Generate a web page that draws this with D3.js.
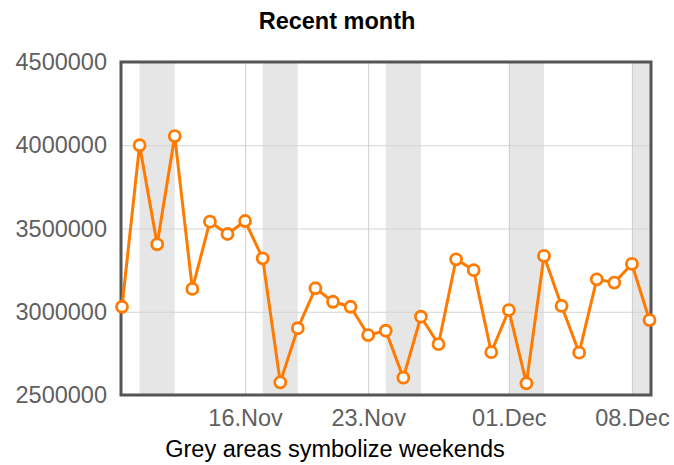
<!DOCTYPE html>
<html>
<head>
<meta charset="utf-8">
<script src="https://cdn.jsdelivr.net/npm/d3@7"></script>
<style>
    body { margin: 0; background: #fff; }
    svg { display: block; font-family: "Liberation Sans", Arial, sans-serif; }
</style>
</head>
<body>
<div id="chart"></div>
<script>
const days = [
    "2012-11-09", "2012-11-10", "2012-11-11", "2012-11-12", "2012-11-13", "2012-11-14",
    "2012-11-15", "2012-11-16", "2012-11-17", "2012-11-18", "2012-11-19", "2012-11-20",
    "2012-11-21", "2012-11-22", "2012-11-23", "2012-11-24", "2012-11-25", "2012-11-26",
    "2012-11-27", "2012-11-28", "2012-11-29", "2012-11-30", "2012-12-01", "2012-12-02",
    "2012-12-03", "2012-12-04", "2012-12-05", "2012-12-06", "2012-12-07", "2012-12-08",
    "2012-12-09"
];
const visits = [
    3030000, 4000000, 3405000, 4055000, 3137000, 3541000,
    3467000, 3545000, 3321000, 2576000, 2901000, 3141000,
    3060000, 3030000, 2860000, 2886000, 2604000, 2970000,
    2805000, 3315000, 3250000, 2757000, 3010000, 2570000,
    3335000, 3035000, 2754000, 3195000, 3175000, 3287000,
    2950000
];
const weekendStarts = ["2012-11-10", "2012-11-17", "2012-11-24", "2012-12-01", "2012-12-08"];
const weekendEnds = ["2012-11-12", "2012-11-19", "2012-11-26", "2012-12-03", "2012-12-10"];
const xTicks = ["2012-11-16", "2012-11-23", "2012-12-01", "2012-12-08"];
const yTicks = [2500000, 3000000, 3500000, 4000000, 4500000];

const width = 674;
const height = 465;
const parseDay = d3.timeParse("%Y-%m-%d");

const svg = d3.select("#chart")
    .append("svg")
    .attr("width", width)
    .attr("height", height);

const margin = { top: 62, right: 23, bottom: 70, left: 121 };
const innerWidth = width - margin.left - margin.right;
const innerHeight = height - margin.top - margin.bottom;

const data = days.map((d, i) => ({ day: parseDay(d), value: visits[i] }));

const xScale = d3.scaleTime()
    .domain(d3.extent(data, d => d.day))
    .range([1, innerWidth - 1.5]);

const yScale = d3.scaleLinear()
    .domain([2500000, 4500000])
    .range([innerHeight, 0]);

const g = svg.append("g")
    .attr("transform", `translate(${margin.left}, ${margin.top})`);

g.append("clipPath")
    .attr("id", "plot-clip")
    .append("rect")
    .attr("width", innerWidth)
    .attr("height", innerHeight);

// weekend bands
g.append("g")
    .attr("clip-path", "url(#plot-clip)")
    .selectAll("rect")
    .data(weekendStarts)
    .enter().append("rect")
    .attr("x", d => xScale(parseDay(d)))
    .attr("width", (d, i) => xScale(parseDay(weekendEnds[i])) - xScale(parseDay(d)))
    .attr("y", 0)
    .attr("height", innerHeight)
    .attr("fill", "#e6e6e6");

const yAxis = d3.axisLeft(yScale)
    .tickValues(yTicks)
    .tickFormat(d3.format("d"))
    .tickSize(-innerWidth)
    .tickPadding(14);

const yAxisG = g.append("g").call(yAxis);
yAxisG.select(".domain").remove();
yAxisG.selectAll("line")
    .style("stroke", "#d4d4d4");
yAxisG.selectAll("text")
    .style("font-size", "23.5px")
    .style("fill", "#606060");

const xAxis = d3.axisBottom(xScale)
    .tickValues(xTicks.map(parseDay))
    .tickFormat(d3.timeFormat("%d.%b"))
    .tickSize(-innerHeight)
    .tickPadding(14);

const xAxisG = g.append("g").call(xAxis)
    .attr("transform", `translate(0, ${innerHeight})`);
xAxisG.select(".domain").remove();
xAxisG.selectAll("line")
    .style("stroke", "#cfcfcf");
xAxisG.selectAll("text")
    .style("font-size", "23.5px")
    .style("fill", "#606060");

// plot border
g.append("rect")
    .attr("width", innerWidth)
    .attr("height", innerHeight)
    .attr("fill", "none")
    .attr("stroke", "#555")
    .attr("stroke-width", 3);

const lineGenerator = d3.line()
    .x(d => xScale(d.day))
    .y(d => yScale(d.value));

g.append("path")
    .attr("fill", "none")
    .attr("stroke", "#ff7a00")
    .attr("stroke-width", 3)
    .attr("stroke-linejoin", "round")
    .attr("d", lineGenerator(data));

g.selectAll("circle").data(data)
    .enter().append("circle")
    .attr("cx", d => xScale(d.day))
    .attr("cy", d => yScale(d.value))
    .attr("r", 5.5)
    .attr("fill", "#fff")
    .attr("stroke", "#ff7a00")
    .attr("stroke-width", 2.8);

svg.append("text")
    .attr("x", width / 2)
    .attr("y", 29)
    .attr("text-anchor", "middle")
    .attr("font-size", "23.5px")
    .attr("font-weight", "bold")
    .attr("fill", "#000")
    .text("Recent month");

svg.append("text")
    .attr("x", width / 2 - 2)
    .attr("y", 457)
    .attr("text-anchor", "middle")
    .attr("font-size", "23.5px")
    .attr("fill", "#000")
    .text("Grey areas symbolize weekends");
</script>
</body>
</html>
